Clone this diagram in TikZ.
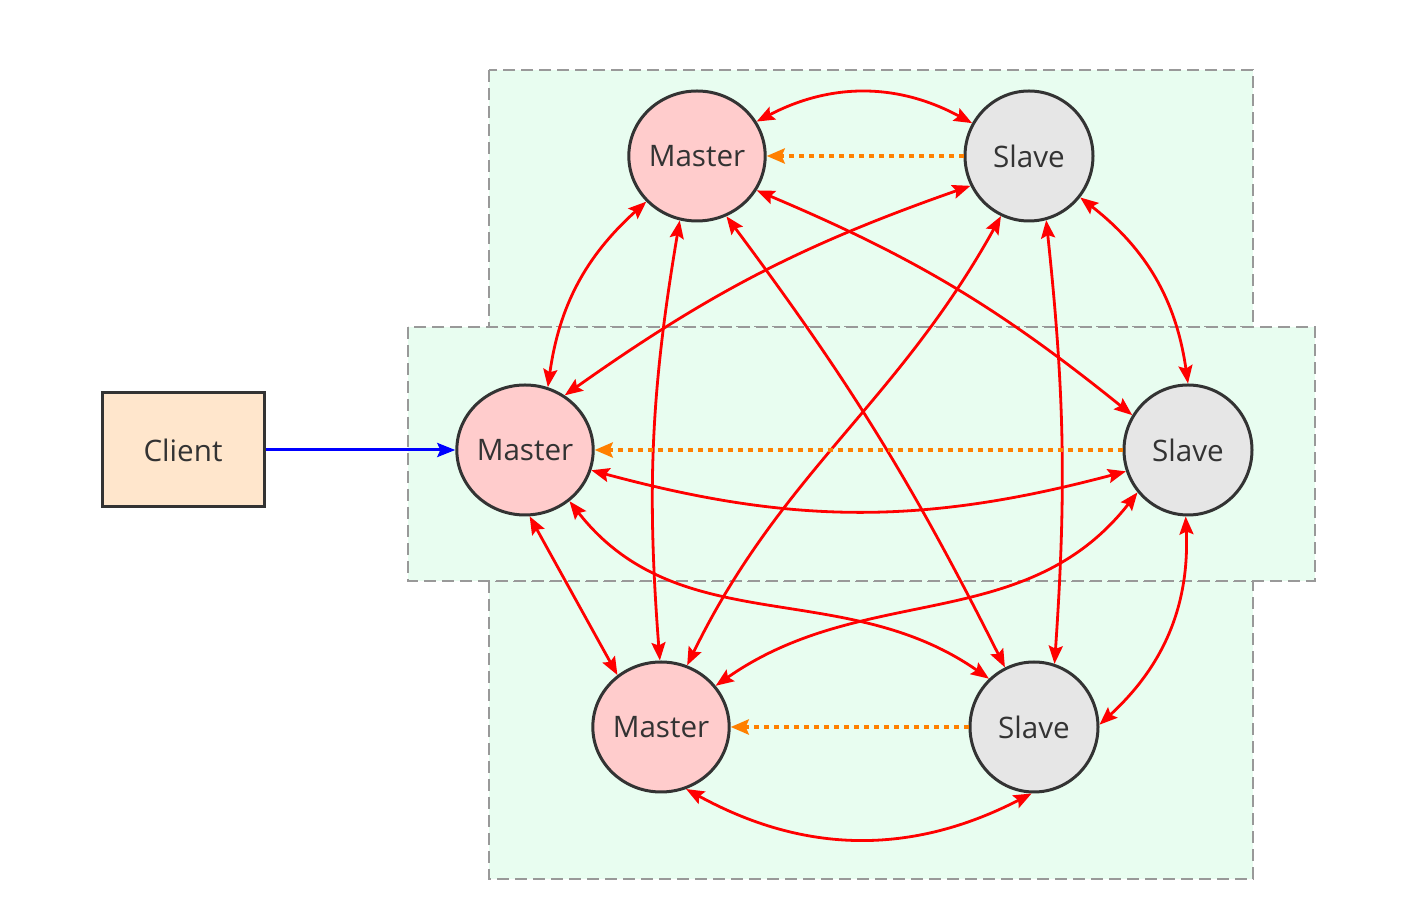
\documentclass[tikz,border=0pt]{standalone}
\usepackage{fontspec}
\setmainfont{Open Sans}
\usetikzlibrary{arrows.meta,shapes.geometric}
\definecolor{masterfill}{HTML}{FFCCCC}
\definecolor{slavefill}{HTML}{E6E6E6}
\definecolor{clientfill}{HTML}{FFE6CC}
\definecolor{clusterfill}{HTML}{E8FDF0}
\definecolor{clusterline}{HTML}{999999}
\definecolor{nodeline}{HTML}{333333}
\definecolor{textcol}{HTML}{333333}
\definecolor{orangec}{HTML}{FF8000}
\tikzset{
  cluster/.style={draw=clusterline, fill=clusterfill, line width=1.1pt, dash pattern=on 6pt off 3pt},
  rnode/.style={ellipse, draw=nodeline, line width=1.5pt, minimum width=64pt, minimum height=65pt, inner sep=0pt, text=textcol, font=\fontsize{14.8}{16}\selectfont},
  master/.style={rnode, fill=masterfill},
  slave/.style={rnode, fill=slavefill},
  clientbox/.style={rectangle, draw=nodeline, line width=1.5pt, fill=clientfill, minimum width=81pt, minimum height=57pt, inner sep=0pt, text=textcol, font=\fontsize{14.8}{16}\selectfont},
  redline/.style={draw=red, line width=1.4pt, {Stealth[length=9pt,width=7pt,inset=1.5pt]}-{Stealth[length=9pt,width=7pt,inset=1.5pt]}},
  orangeline/.style={draw=orangec, line width=2.2pt, dash pattern=on 2.5pt off 2.5pt, -{Stealth[length=9pt,width=7.5pt,inset=1.5pt]}},
  blueline/.style={draw=blue, line width=1.5pt, -{Stealth[length=9pt,width=7pt,inset=1.5pt]}}
}
\begin{document}
\begin{tikzpicture}[x=0.5pt,y=-0.5pt]
\useasboundingbox (0,0) rectangle (1421,913);
% clusters
\path[cluster] (489,70) rectangle (1253,327);
\path[cluster] (489,581) rectangle (1253,879);
\path[cluster] (408,327) rectangle (1315,581);
% nodes
\node[master] (M1) at (697,156) {Master};
\node[slave]  (S1) at (1029,156) {Slave};
\node[master] (M2) at (525,450) {Master};
\node[slave]  (S2) at (1188,450) {Slave};
\node[master] (M3) at (661,727) {Master};
\node[slave]  (S3) at (1034,727) {Slave};
\node[clientbox] (C) at (183,450) {Client};
% edges
\draw[redline] (M1.30) to[bend left=28] (S1.150);
\draw[orangeline] (S1.west) -- (M1.east);
\draw[redline] (M1.222) to[bend right=20] (M2.70);
\draw[redline] (M1.255) to[bend right=7] (M3.91);
\draw[redline] (M1.296) to[bend left=5] (S3.116);
\draw[redline] (M1.330) to[bend left=8] (S2.148);
\draw[redline] (S1.207) to[bend right=8] (M2.54);
\draw[redline] (S1.245) to[out=241,in=64] (M3.67);
\draw[redline] (S1.285) to[bend left=5] (S3.72);
\draw[redline] (S1.321) to[bend left=22] (S2.90);
\draw[orangeline] (S2.west) -- (M2.east);
\draw[redline] (M2.343) to[bend right=15] (S2.199);
\draw[redline] (M2.311) to[out=-52,in=145] (S3.133);
\draw[redline] (M2.274) -- (M3.130);
\draw[redline] (S2.220) to[out=232,in=35] (M3.37);
\draw[redline] (S2.268) to[bend left=25] (S3.2);
\draw[orangeline] (S3.west) -- (M3.east);
\draw[redline] (M3.292) to[bend right=28] (S3.268);
\draw[blueline] (C.east) -- (M2.west);
\end{tikzpicture}
\end{document}
